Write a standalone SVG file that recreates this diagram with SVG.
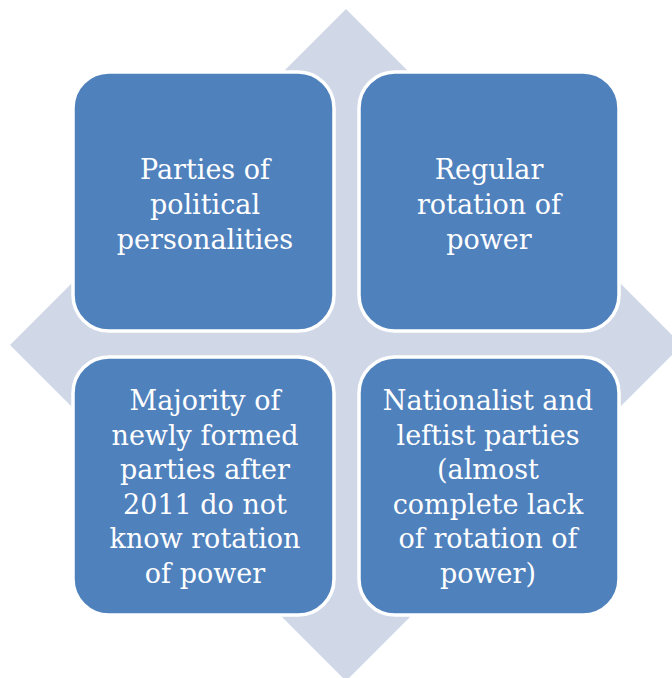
<svg xmlns="http://www.w3.org/2000/svg" width="672" height="678" viewBox="0 0 672 678">
<style>
.bg{fill:#D0D8E8}
.box{fill:#4F81BD;stroke:#FFFFFF;stroke-width:3.5}
.t{font-family:"DejaVu Serif","Liberation Serif",serif;font-size:27px;fill:#FFFFFF;text-anchor:middle}
</style>
<rect width="672" height="678" fill="#FFFFFF"/>
<polygon class="bg" points="346,9 682,345 346,681 10,345"/>
<g id="node1">
<rect class="box" x="73" y="72" width="261" height="259" rx="36" ry="36"/>
<text class="t" x="205" y="179">Parties of</text>
<text class="t" x="205" y="214">political</text>
<text class="t" x="205" y="249">personalities</text>
</g>
<g id="node2">
<rect class="box" x="359" y="72" width="260" height="259" rx="36" ry="36"/>
<text class="t" x="489" y="179">Regular</text>
<text class="t" x="489" y="214">rotation of</text>
<text class="t" x="489" y="249">power</text>
</g>
<g id="node3">
<rect class="box" x="73" y="357" width="261" height="258" rx="36" ry="36"/>
<text class="t" x="205" y="410">Majority of</text>
<text class="t" x="205" y="445">newly formed</text>
<text class="t" x="205" y="479">parties after</text>
<text class="t" x="205" y="514">2011 do not</text>
<text class="t" x="205" y="548">know rotation</text>
<text class="t" x="205" y="583">of power</text>
</g>
<g id="node4">
<rect class="box" x="359" y="357" width="260" height="258" rx="36" ry="36"/>
<text class="t" x="488" y="410">Nationalist and</text>
<text class="t" x="488" y="445">leftist parties</text>
<text class="t" x="488" y="479">(almost</text>
<text class="t" x="488" y="514">complete lack</text>
<text class="t" x="488" y="548">of rotation of</text>
<text class="t" x="488" y="583">power)</text>
</g>
<g id="connectors"></g>
</svg>
